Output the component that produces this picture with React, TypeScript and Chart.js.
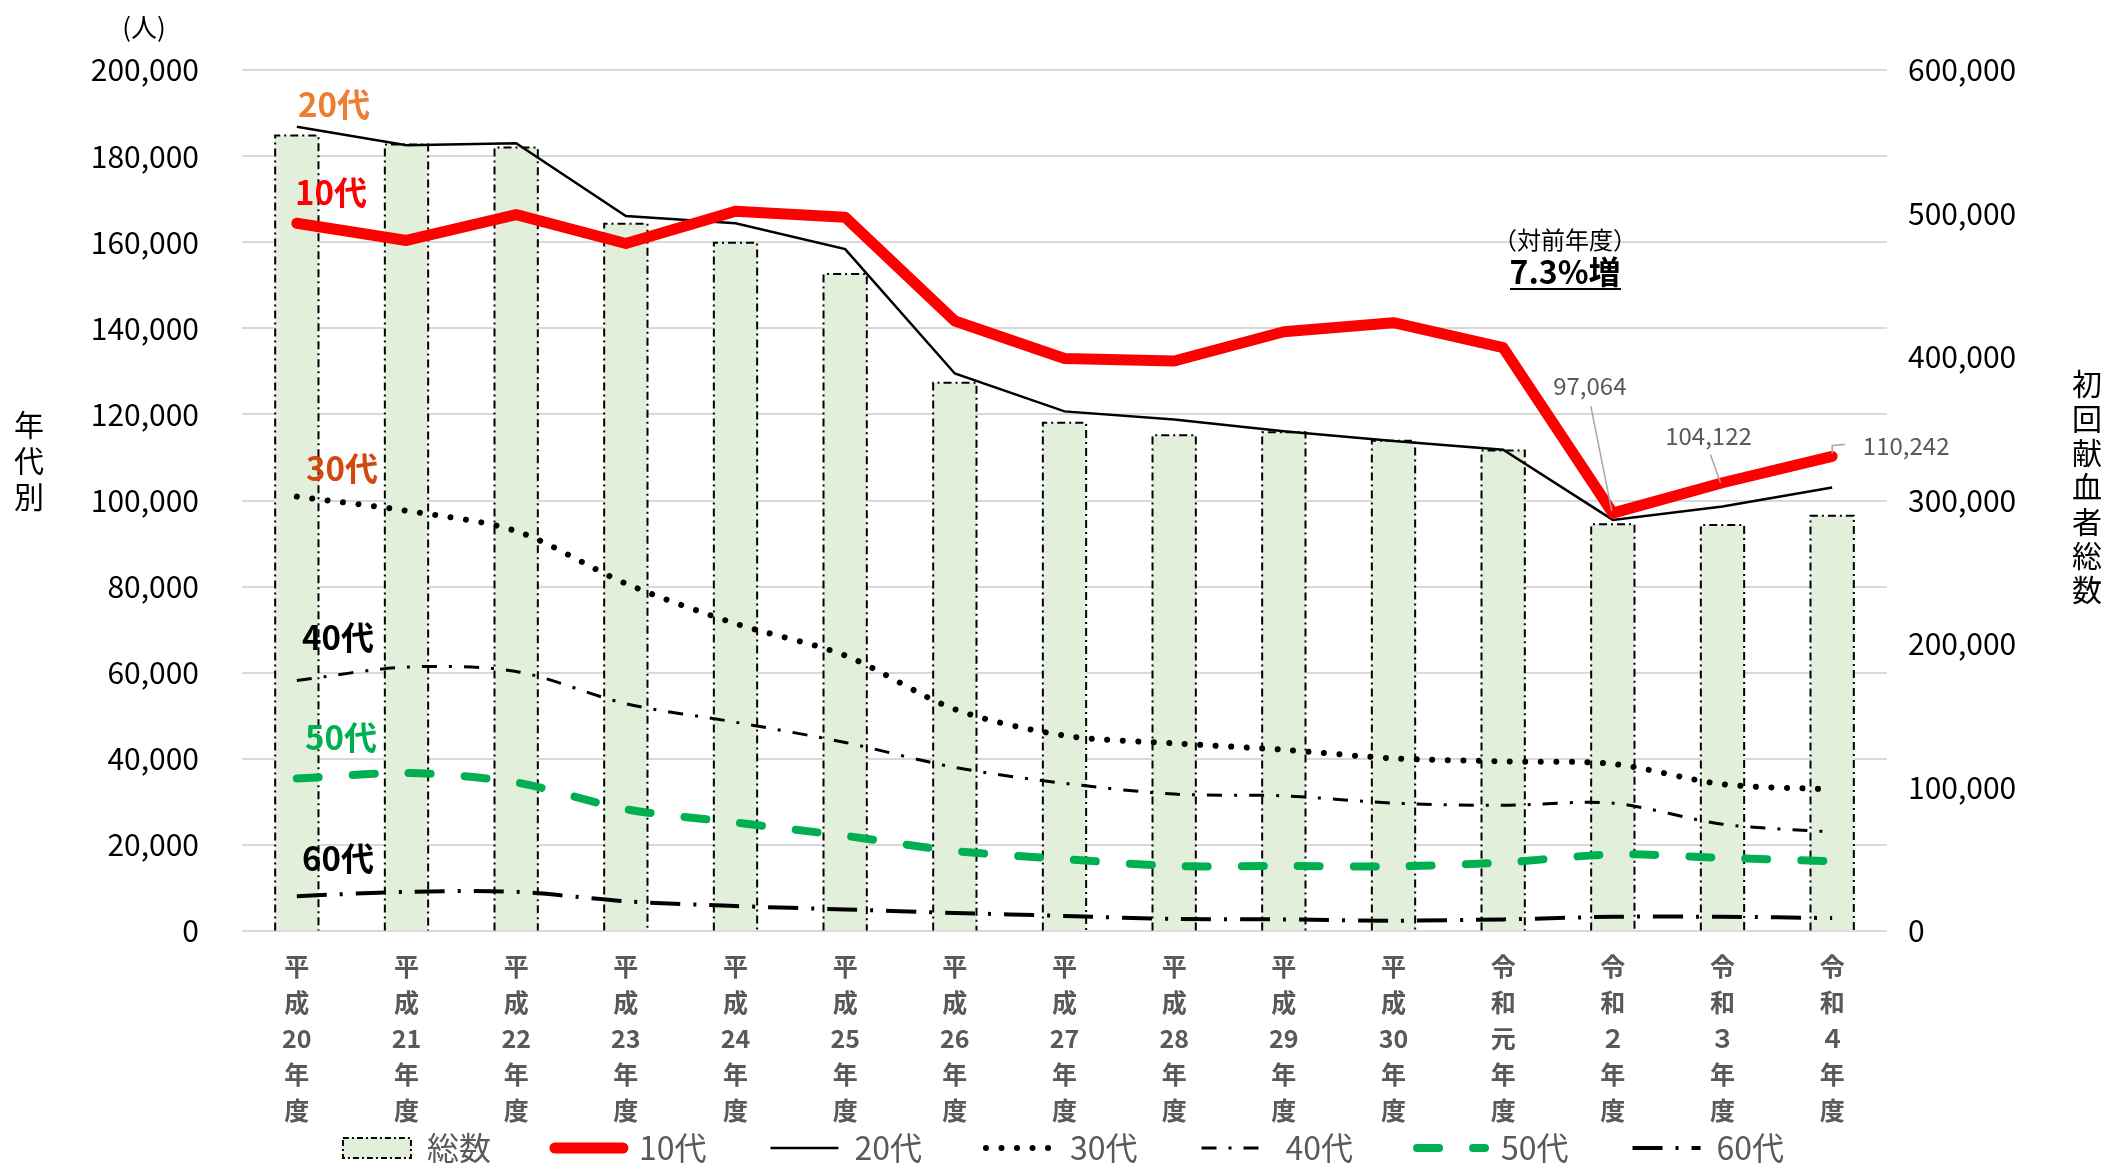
import React, { useEffect, useRef } from 'react';
import { Chart, registerables } from 'chart.js';

Chart.register(...registerables);

const FONT = "'Noto Sans CJK JP', 'Noto Sans', sans-serif";

const categories: string[][] = [
  ['平', '成', '20', '年', '度'],
  ['平', '成', '21', '年', '度'],
  ['平', '成', '22', '年', '度'],
  ['平', '成', '23', '年', '度'],
  ['平', '成', '24', '年', '度'],
  ['平', '成', '25', '年', '度'],
  ['平', '成', '26', '年', '度'],
  ['平', '成', '27', '年', '度'],
  ['平', '成', '28', '年', '度'],
  ['平', '成', '29', '年', '度'],
  ['平', '成', '30', '年', '度'],
  ['令', '和', '元', '年', '度'],
  ['令', '和', '２', '年', '度'],
  ['令', '和', '３', '年', '度'],
  ['令', '和', '４', '年', '度'],
];

const totalDonors = [554300, 548000, 546000, 492800, 479700, 457800, 382000, 354100, 345500, 347600, 341700, 334800, 283400, 283000, 289300];
const age10s = [164400, 160400, 166400, 159700, 167200, 165800, 141700, 133000, 132400, 139200, 141300, 135500, 97064, 104122, 110242];
const age20s = [186800, 182500, 183000, 166100, 164400, 158400, 129500, 120700, 118800, 116100, 113800, 111800, 95500, 98600, 103000];
const age30s = [100900, 97600, 92900, 80700, 71400, 64000, 51500, 45400, 43600, 42100, 40100, 39400, 38800, 34100, 32900];
const age40s = [58200, 61300, 60300, 52800, 48500, 43800, 38000, 34300, 31800, 31400, 29700, 29200, 29700, 24800, 23000];
const age50s = [35400, 36700, 34500, 28300, 25200, 22100, 18600, 16700, 15100, 15100, 15000, 15900, 17800, 17000, 16200];
const age60s = [8100, 9100, 9100, 6900, 5800, 5000, 4200, 3500, 2800, 2700, 2400, 2700, 3300, 3300, 3000];

const leftTicks = { min: 0, max: 200000, step: 20000 };
const rightTicks = { min: 0, max: 600000, step: 100000 };

const labeledPoints = [12, 13, 14];

const fmt = (v: number) => v.toLocaleString('en-US');

const barBorderPlugin = {
  id: 'barBorder',
  afterDatasetDraw(chart: any, args: any) {
    if (args.index !== 0) return;
    const ctx = chart.ctx;
    ctx.save();
    ctx.strokeStyle = '#000';
    ctx.lineWidth = 2;
    ctx.setLineDash([8, 4, 2, 4]);
    args.meta.data.forEach((el: any) => {
      const { x, y, base, width } = el.getProps(['x', 'y', 'base', 'width'], true);
      const l = x - width / 2;
      const r = x + width / 2;
      ctx.beginPath();
      ctx.moveTo(l, base);
      ctx.lineTo(l, y);
      ctx.lineTo(r, y);
      ctx.lineTo(r, base);
      ctx.stroke();
    });
    ctx.restore();
  },
};

// let the category labels draw below the (legend-limited) x-axis box
const xClipPlugin = {
  id: 'xClip',
  afterLayout(chart: any) {
    if (chart.scales.x) chart.scales.x.bottom = chart.height;
  },
};

const annotationPlugin = {
  id: 'annotations',
  afterDraw(chart: any) {
    const ctx = chart.ctx;
    ctx.save();
    ctx.textAlign = 'center';
    ctx.textBaseline = 'middle';
    const text = (s: string, x: number, y: number, font: string, color: string) => {
      ctx.font = font;
      ctx.fillStyle = color;
      ctx.fillText(s, x, y);
    };
    const vertical = (s: string, x: number, y0: number, step: number, font: string) => {
      Array.from(s).forEach((c, i) => text(c, x, y0 + i * step, font, '#000'));
    };

    text('(人)', 144, 27, `26px ${FONT}`, '#000');
    vertical('年代別', 29, 425, 36, `30px ${FONT}`);
    vertical('初回献血者総数', 2087, 384, 34.3, `30px ${FONT}`);

    const sFont = `bold 33px ${FONT}`;
    text('20代', 334, 104, sFont, '#ED7D31');
    text('10代', 331, 192, sFont, '#FF0000');
    text('30代', 342, 468, sFont, '#D2480F');
    text('40代', 338, 637, sFont, '#000');
    text('50代', 341, 737, sFont, '#00B050');
    text('60代', 338, 858, sFont, '#000');

    text('（対前年度）', 1565, 240, `24px ${FONT}`, '#000');
    text('7.3%増', 1565, 272, `bold 32px ${FONT}`, '#000');
    ctx.strokeStyle = '#000';
    ctx.lineWidth = 2;
    ctx.beginPath();
    ctx.moveTo(1510, 289);
    ctx.lineTo(1621, 289);
    ctx.stroke();

    // data labels for 10代
    const meta = chart.getDatasetMeta(1);
    const specs: Record<number, { lx: number; ly: number; path: number[][] }> = {
      12: { lx: -23, ly: -127, path: [[-22, -107], [-1, -2]] },
      13: { lx: -14, ly: -47, path: [[-12, -28], [-2, 0]] },
      14: { lx: 74, ly: -11, path: [[13, -12], [0, -11], [0, -3]] },
    };
    labeledPoints.forEach((i) => {
      const el = meta.data[i];
      const sp = specs[i];
      if (!el || !sp) return;
      const { x, y } = el.getProps(['x', 'y'], true);
      ctx.strokeStyle = '#A6A6A6';
      ctx.lineWidth = 1.5;
      ctx.setLineDash([]);
      ctx.beginPath();
      sp.path.forEach((p, k) => {
        if (k === 0) ctx.moveTo(x + p[0], y + p[1]);
        else ctx.lineTo(x + p[0], y + p[1]);
      });
      ctx.stroke();
      text(fmt(age10s[i]), x + sp.lx, y + sp.ly, `24px ${FONT}`, '#595959');
    });
    ctx.restore();
  },
};

export default function App() {
  const ref = useRef<HTMLCanvasElement | null>(null);

  useEffect(() => {
    if (!ref.current) return;
    document.body.style.margin = '0';
    Chart.defaults.font.family = FONT;

    const chart = new Chart(ref.current, {
      type: 'bar',
      data: {
        labels: categories,
        datasets: [
          {
            type: 'bar',
            label: '総数',
            data: totalDonors,
            yAxisID: 'y1',
            backgroundColor: '#E2EFDA',
            borderWidth: 0,
            barPercentage: 0.395,
            categoryPercentage: 1,
            order: 1,
          } as any,
          {
            type: 'line',
            label: '10代',
            data: age10s,
            yAxisID: 'y',
            borderColor: '#FF0000',
            backgroundColor: '#FF0000',
            borderWidth: 11,
            borderCapStyle: 'round',
            borderJoinStyle: 'round',
            pointRadius: 0,
            tension: 0,
            order: 0,
          },
          {
            type: 'line',
            label: '20代',
            data: age20s,
            yAxisID: 'y',
            borderColor: '#000',
            backgroundColor: '#000',
            borderWidth: 2.5,
            pointRadius: 0,
            tension: 0,
            order: 0,
          },
          {
            type: 'line',
            label: '30代',
            data: age30s,
            yAxisID: 'y',
            borderColor: '#000',
            backgroundColor: '#000',
            borderWidth: 6,
            borderDash: [0.01, 15.5],
            borderCapStyle: 'round',
            pointRadius: 0,
            tension: 0.3,
            order: 0,
          },
          {
            type: 'line',
            label: '40代',
            data: age40s,
            yAxisID: 'y',
            borderColor: '#000',
            backgroundColor: '#000',
            borderWidth: 3,
            borderDash: [15, 12, 3, 12],
            pointRadius: 0,
            tension: 0.3,
            order: 0,
          },
          {
            type: 'line',
            label: '50代',
            data: age50s,
            yAxisID: 'y',
            borderColor: '#00B050',
            backgroundColor: '#00B050',
            borderWidth: 8,
            borderDash: [22, 34],
            borderCapStyle: 'round',
            pointRadius: 0,
            tension: 0.3,
            order: 0,
          },
          {
            type: 'line',
            label: '60代',
            data: age60s,
            yAxisID: 'y',
            borderColor: '#000',
            backgroundColor: '#000',
            borderWidth: 4,
            borderDash: [30, 13, 3, 13],
            pointRadius: 0,
            tension: 0.3,
            order: 0,
          },
        ],
      },
      options: {
        responsive: false,
        animation: false,
        devicePixelRatio: 1,
        layout: { padding: { top: 70, left: 20, right: 0, bottom: -7 } },
        plugins: {
          tooltip: { enabled: false },
          legend: {
            position: 'bottom',
            labels: {
              usePointStyle: true,
              pointStyleWidth: 68,
              boxHeight: 20,
              padding: 64,
              color: '#595959',
              font: { size: 32, family: FONT },
              sort: (a: any, b: any) => a.datasetIndex - b.datasetIndex,
              generateLabels: (c: any) => {
                const items = (Chart.defaults.plugins.legend.labels as any).generateLabels(c);
                return items.map((it: any) => {
                  const ds = c.data.datasets[it.datasetIndex];
                  if (it.datasetIndex === 0) {
                    return { ...it, pointStyle: 'rect', lineWidth: 2, strokeStyle: '#000', lineDash: [6, 3, 2, 3], fillStyle: ds.backgroundColor };
                  }
                  return {
                    ...it,
                    pointStyle: 'line',
                    lineDash: ds.borderDash || [],
                    lineCap: ds.borderCapStyle || 'butt',
                    lineWidth: ds.borderWidth,
                    strokeStyle: ds.borderColor,
                  };
                });
              },
            },
          },
        },
        scales: {
          x: {
            offset: true,
            grid: { display: false },
            border: { display: false },
            ticks: {
              autoSkip: false,
              maxRotation: 0,
              minRotation: 0,
              padding: 9,
              color: '#595959',
              font: { size: 25, weight: 'bold', lineHeight: 1.44, family: FONT },
            },
            afterFit: (s: any) => {
              s.height = 137;
            },
          },
          y: {
            position: 'left',
            min: leftTicks.min,
            max: leftTicks.max,
            grid: { color: '#D9D9D9', lineWidth: 2, drawTicks: false },
            border: { display: false },
            ticks: {
              stepSize: leftTicks.step,
              padding: 43,
              color: '#000',
              font: { size: 30, family: FONT },
              callback: (v: any) => fmt(Number(v)),
            },
            afterFit: (s: any) => {
              s.width = 222;
            },
          },
          y1: {
            position: 'right',
            min: rightTicks.min,
            max: rightTicks.max,
            grid: { drawOnChartArea: false, drawTicks: false },
            border: { display: false },
            ticks: {
              stepSize: rightTicks.step,
              padding: 21,
              color: '#000',
              font: { size: 30, family: FONT },
              callback: (v: any) => fmt(Number(v)),
            },
            afterFit: (s: any) => {
              s.width = 220;
            },
          },
        },
      },
      plugins: [barBorderPlugin, xClipPlugin, annotationPlugin],
    } as any);

    return () => chart.destroy();
  }, []);

  return (
    <div style={{ position: 'absolute', left: 0, top: 0, width: 2107, height: 1167 }}>
      <canvas ref={ref} width={2107} height={1167} style={{ display: 'block' }} />
    </div>
  );
}
